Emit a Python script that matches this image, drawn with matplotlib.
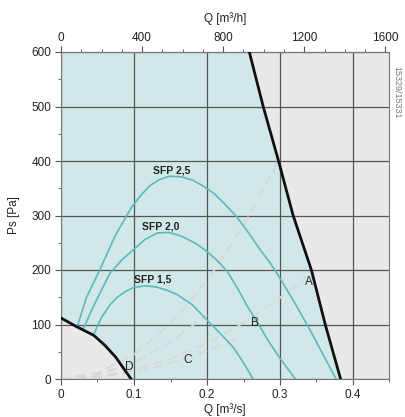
import matplotlib
matplotlib.use("Agg")
import matplotlib.pyplot as plt
from matplotlib.patches import Rectangle
from matplotlib.ticker import MultipleLocator

plt.rcParams['font.family'] = ['Liberation Sans', 'DejaVu Sans']

# ---- data (Q in m3/s, Ps in Pa) ----
max_q = [0.258, 0.277, 0.298, 0.318, 0.343, 0.362, 0.383]
max_ps = [600, 500, 400, 300, 200, 100, 0]

d_q = [0.0, 0.02, 0.045, 0.06, 0.075, 0.087, 0.096]
d_ps = [112, 97, 80, 62, 40, 17, 0]

sfp25_q = [0.022, 0.035, 0.053, 0.075, 0.097, 0.11, 0.122, 0.135, 0.148, 0.165, 0.18, 0.195, 0.21, 0.225,
           0.241, 0.257, 0.273, 0.287, 0.30, 0.32, 0.342, 0.36, 0.377]
sfp25_ps = [95, 150, 200, 265, 316, 338, 355, 366, 372, 371, 365, 354, 340, 320,
            297, 268, 237, 212, 185, 140, 88, 42, 0]

sfp20_q = [0.03, 0.045, 0.067, 0.083, 0.099, 0.115, 0.132, 0.148, 0.165, 0.183, 0.2, 0.215, 0.228, 0.242,
           0.255, 0.27, 0.283, 0.30, 0.321]
sfp20_ps = [91, 135, 194, 218, 237, 256, 268, 269, 262, 250, 234, 216, 197, 166,
            134, 102, 72, 38, 0]

sfp15_q = [0.045, 0.055, 0.067, 0.078, 0.09, 0.1, 0.115, 0.13, 0.145, 0.159, 0.18, 0.2, 0.218, 0.236, 0.25, 0.263]
sfp15_ps = [82, 112, 136, 151, 162, 168, 171, 169, 163, 155, 136, 108, 84, 58, 30, 0]

sys1_q = [0.0, 0.05, 0.1, 0.15, 0.2, 0.25, 0.298]
sys1_ps = [0, 11, 45, 101, 180, 281, 400]
sys2_q = [0.0, 0.05, 0.1, 0.15, 0.2, 0.25, 0.3, 0.343]
sys2_ps = [0, 4, 17, 37, 66, 103, 149, 194]
sys3_q = [0.0, 0.05, 0.1, 0.15, 0.2]
sys3_ps = [0, 8, 30, 68, 118]
sys4_q = [0.0, 0.05, 0.1, 0.15, 0.2, 0.24]
sys4_ps = [0, 3, 13, 29, 52, 75]

sfp_labels = ["SFP 2,5", "SFP 2,0", "SFP 1,5"]
sfp_label_pos = [(0.152, 383), (0.136, 280), (0.126, 182)]
curve_labels = ["A", "B", "C", "D"]
curve_label_pos = [(0.339, 178), (0.265, 103), (0.174, 35), (0.094, 22)]

x_ticks = [0, 0.1, 0.2, 0.3, 0.4]
x_ticklabels = ["0", "0.1", "0.2", "0.3", "0.4"]
y_ticks = [0, 100, 200, 300, 400, 500, 600]
top_ticks = [0, 400, 800, 1200, 1600]

fig = plt.figure(figsize=(4.06, 4.17), dpi=100)
ax = fig.add_axes([61 / 406, 1 - 379 / 417, (389.5 - 61) / 406, (379 - 52) / 417])
ax.set_xlim(0, 0.45)
ax.set_ylim(0, 600)

txtc = "#222222"
fs = 8.5

# background (outside operating area)
ax.add_patch(Rectangle((0, 0), 0.45, 600, facecolor="#e9e9e9", linewidth=0, zorder=0.5))
# operating area
poly_q = [0.0] + d_q + max_q[::-1] + [0.0]
poly_ps = [600] + d_ps + max_ps[::-1] + [600]
ax.fill(poly_q, poly_ps, facecolor="#d2e8e8", linewidth=0, zorder=0.8)

ax.set_axisbelow('line')
ax.grid(True, which='major', color="#555555", linewidth=0.9)

# system curves
for q, p in [(sys1_q, sys1_ps), (sys2_q, sys2_ps), (sys3_q, sys3_ps), (sys4_q, sys4_ps)]:
    ax.plot(q, p, color="#d8d8d8", linewidth=1.4, linestyle=(0, (5, 3)), zorder=2)

# SFP curves
for q, p in [(sfp25_q, sfp25_ps), (sfp20_q, sfp20_ps), (sfp15_q, sfp15_ps)]:
    ax.plot(q, p, color="#5cbaba", linewidth=1.2, zorder=3)

ax.plot(max_q, max_ps, color="#111111", linewidth=2.0, zorder=4)
ax.plot(d_q, d_ps, color="#111111", linewidth=2.0, zorder=4)

for lab, (qx, py) in zip(sfp_labels, sfp_label_pos):
    ax.text(qx, py, lab, ha="center", va="center", fontsize=7.5, fontweight="bold", color=txtc, zorder=5)
for lab, (qx, py) in zip(curve_labels, curve_label_pos):
    ax.text(qx, py, lab, ha="center", va="center", fontsize=fs, color=txtc, zorder=5)

ax.set_xticks(x_ticks)
ax.set_xticklabels(x_ticklabels)
ax.set_yticks(y_ticks)
ax.xaxis.set_minor_locator(MultipleLocator(0.05))
ax.yaxis.set_minor_locator(MultipleLocator(50))
ax.tick_params(which='both', direction='out', colors="#555555", labelcolor=txtc, labelsize=fs)
ax.tick_params(which='major', length=4, width=0.8, pad=3)
ax.tick_params(which='minor', length=2.5, width=0.6)
for s in ax.spines.values():
    s.set_color("#777777")
    s.set_linewidth(0.8)

ax.set_xlabel("Q [m³/s]", fontsize=fs, color=txtc, labelpad=2)
ax.set_ylabel("Ps [Pa]", fontsize=fs, color=txtc, labelpad=8)

top = ax.secondary_xaxis('top', functions=(lambda q: q * 3600, lambda h: h / 3600))
top.set_xticks(top_ticks)
top.xaxis.set_minor_locator(MultipleLocator(100))
top.tick_params(which='both', direction='out', colors="#555555", labelcolor=txtc, labelsize=fs)
top.tick_params(which='major', length=4, width=0.8, pad=2)
top.tick_params(which='minor', length=2.5, width=0.6)
top.spines['top'].set_color("#777777")
top.set_xlabel("Q [m³/h]", fontsize=fs, color=txtc, labelpad=7)

fig.text(397 / 406, 1 - 92 / 417, "15329/15331", rotation=-90, ha="center", va="center",
         fontsize=6.5, color="#777777")

fig.savefig("out.png", dpi=100, facecolor="white")
